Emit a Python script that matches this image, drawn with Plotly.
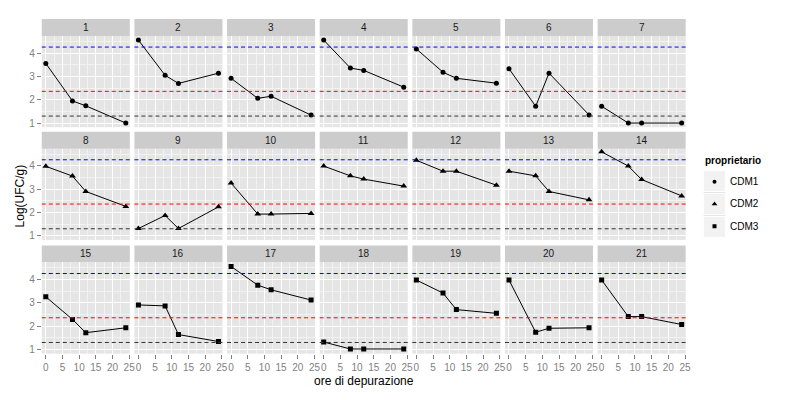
import plotly.graph_objects as go

# ---------------- data ----------------
hours = [0, 8, 12, 24]
panels = [str(i) for i in range(1, 22)]
owners = ["CDM1"] * 7 + ["CDM2"] * 7 + ["CDM3"] * 7
log_ufc = [
    [3.56, 1.95, 1.74, 1.00],
    [4.56, 3.05, 2.70, 3.14],
    [2.92, 2.06, 2.15, 1.34],
    [4.56, 3.36, 3.26, 2.54],
    [4.18, 3.18, 2.92, 2.71],
    [3.33, 1.72, 3.14, 1.35],
    [1.72, 1.00, 1.00, 1.00],
    [3.98, 3.56, 2.90, 2.26],
    [1.31, 1.87, 1.31, 2.24],
    [3.26, 1.93, 1.93, 1.96],
    [3.99, 3.57, 3.43, 3.13],
    [4.24, 3.77, 3.77, 3.17],
    [3.77, 3.57, 2.90, 2.54],
    [4.60, 3.99, 3.41, 2.71],
    [3.26, 2.29, 1.72, 1.93],
    [2.91, 2.87, 1.64, 1.34],
    [4.56, 3.76, 3.56, 3.12],
    [1.32, 1.02, 1.02, 1.02],
    [3.98, 3.42, 2.71, 2.55],
    [3.98, 1.74, 1.91, 1.93],
    [3.98, 2.41, 2.41, 2.07],
]
ref_levels = [4.26, 2.36, 1.30]
ref_colors = ["#0000FF", "#FF0000", "#333333"]
owner_names = ["CDM1", "CDM2", "CDM3"]
owner_symbols = {"CDM1": "circle", "CDM2": "triangle-up", "CDM3": "square"}
owner_sizes = {"CDM1": 5, "CDM2": 6, "CDM3": 5}
x_ticks = [0, 5, 10, 15, 20, 25]
y_ticks = [1, 2, 3, 4]

# ---------------- layout geometry (pixels) ----------------
# the page body has an 8px default margin, so the figure is drawn 8px in
OFF = 8.0
W, H = 792, 392
FONT = "Liberation Sans, Arial, sans-serif"
x0, pw, gx = 42.0 - OFF, 88.6, 4.63
row_tops = [19.0 - OFF, 132.0 - OFF, 246.0 - OFF]
strip_h, ph = 17.0, 91.5

xr = [-1.2, 25.2]
yr = [0.822, 4.738]

fig = go.Figure()
layout = dict(
    width=W, height=H, margin=dict(l=0, r=0, t=0, b=0),
    paper_bgcolor="white", plot_bgcolor="#E5E5E5",
    showlegend=False, font=dict(family=FONT, color="#000000"),
)
shapes, annotations = [], []

for k in range(21):
    r, c = divmod(k, 7)
    left = x0 + c * (pw + gx)
    right = left + pw
    stop = row_tops[r]
    ptop = stop + strip_h
    pbot = ptop + ph
    xn = "xaxis" if k == 0 else f"xaxis{k+1}"
    yn = "yaxis" if k == 0 else f"yaxis{k+1}"
    xa = "x" if k == 0 else f"x{k+1}"
    ya = "y" if k == 0 else f"y{k+1}"
    bottom_row = (r == 2)
    left_col = (c == 0)
    layout[xn] = dict(
        domain=[left / W, right / W], range=xr, anchor=ya,
        tickvals=x_ticks, showticklabels=bottom_row,
        ticks="outside" if bottom_row else "", ticklen=4, tickcolor="#7F7F7F", tickwidth=1,
        tickfont=dict(size=10, color="#7F7F7F", family=FONT),
        showgrid=True, gridcolor="#FFFFFF", gridwidth=1.1, zeroline=False, showline=False,
        minor=dict(tickvals=[2.5, 7.5, 12.5, 17.5, 22.5], showgrid=True,
                   gridcolor="#F2F2F2", gridwidth=0.6),
        fixedrange=True,
    )
    layout[yn] = dict(
        domain=[1 - pbot / H, 1 - ptop / H], range=yr, anchor=xa,
        tickvals=y_ticks, showticklabels=left_col,
        ticks="outside" if left_col else "", ticklen=4, tickcolor="#7F7F7F", tickwidth=1,
        tickfont=dict(size=10, color="#7F7F7F", family=FONT),
        showgrid=True, gridcolor="#FFFFFF", gridwidth=1.1, zeroline=False, showline=False,
        minor=dict(tickvals=[1.5, 2.5, 3.5, 4.5], showgrid=True,
                   gridcolor="#F2F2F2", gridwidth=0.6),
        fixedrange=True,
    )
    # strip
    shapes.append(dict(type="rect", xref="paper", yref="paper",
                       x0=left / W, x1=right / W, y0=1 - ptop / H, y1=1 - stop / H,
                       fillcolor="#CCCCCC", line=dict(width=0), layer="below"))
    annotations.append(dict(text=panels[k], xref="paper", yref="paper",
                            x=(left + right) / 2 / W, y=1 - (stop + strip_h / 2) / H,
                            showarrow=False, font=dict(size=10, color="#1A1A1A", family=FONT),
                            xanchor="center", yanchor="middle"))
    # reference lines
    for lv, col in zip(ref_levels, ref_colors):
        shapes.append(dict(type="line", xref=f"{xa} domain", yref=ya,
                           x0=0, x1=1, y0=lv, y1=lv,
                           line=dict(color=col, width=1, dash="4px,3px"), layer="above"))
    own = owners[k]
    fig.add_trace(go.Scatter(
        x=hours, y=log_ufc[k], mode="lines+markers", xaxis=xa, yaxis=ya,
        line=dict(color="black", width=1),
        marker=dict(symbol=owner_symbols[own], size=owner_sizes[own], color="black",
                    line=dict(width=0)),
        name=own, hoverinfo="x+y",
    ))

# axis titles
annotations.append(dict(text="ore di depurazione", xref="paper", yref="paper",
                        x=(x0 + 6 * (pw + gx) + pw + x0) / 2 / W, y=1 - (382 - OFF) / H,
                        showarrow=False, font=dict(size=12, color="#000000", family=FONT),
                        xanchor="center", yanchor="middle"))
annotations.append(dict(text="Log(UFC/g)", xref="paper", yref="paper",
                        x=(20 - OFF) / W, y=1 - (196 - OFF) / H, textangle=-90,
                        showarrow=False, font=dict(size=12, color="#000000", family=FONT),
                        xanchor="center", yanchor="middle"))

# legend (manual, ggplot style)
annotations.append(dict(text="<b>proprietario</b>", xref="paper", yref="paper",
                        x=(707 - OFF) / W, y=1 - (161 - OFF) / H, showarrow=False,
                        font=dict(size=10, color="#000000", family=FONT),
                        xanchor="left", yanchor="middle"))
key_tops = [171.0 - OFF, 194.0 - OFF, 217.0 - OFF]
leg_x0, leg_x1 = 708.0 - OFF, 730.0 - OFF
layout["xaxis22"] = dict(domain=[leg_x0 / W, leg_x1 / W], range=[-1, 1], visible=False,
                         anchor="y22", fixedrange=True)
layout["yaxis22"] = dict(domain=[1 - (key_tops[-1] + 21) / H, 1 - key_tops[0] / H],
                         range=[len(owner_names) - 0.5, -0.5], visible=False,
                         anchor="x22", fixedrange=True)
for i, nm in enumerate(owner_names):
    kt = key_tops[i]
    shapes.append(dict(type="rect", xref="paper", yref="paper",
                       x0=leg_x0 / W, x1=leg_x1 / W, y0=1 - (kt + 21) / H, y1=1 - kt / H,
                       fillcolor="#F2F2F2", line=dict(color="white", width=1), layer="below"))
    annotations.append(dict(text=nm, xref="paper", yref="paper",
                            x=(733 - OFF) / W, y=1 - (kt + 10.5) / H, showarrow=False,
                            font=dict(size=10, color="#000000", family=FONT),
                            xanchor="left", yanchor="middle"))
    fig.add_trace(go.Scatter(
        x=[0], y=[i], mode="markers", xaxis="x22", yaxis="y22",
        marker=dict(symbol=owner_symbols[nm], size=owner_sizes[nm] - 1, color="black",
                    line=dict(width=0)),
        hoverinfo="skip", name=nm,
    ))

layout["shapes"] = shapes
layout["annotations"] = annotations
fig.update_layout(**layout)
fig.write_html("out.html")
